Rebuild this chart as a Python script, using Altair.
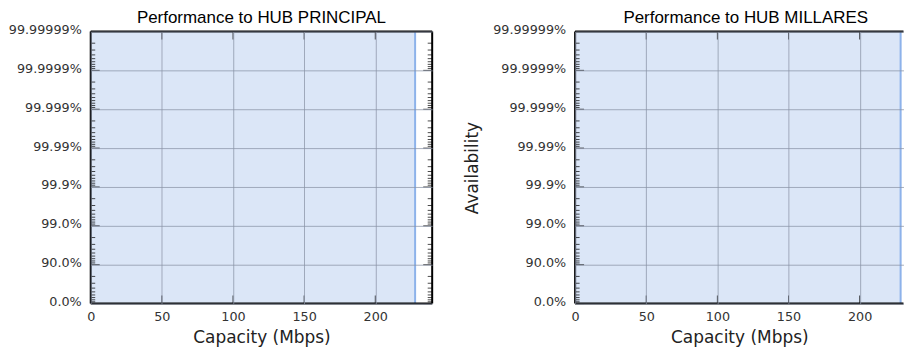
import math
import altair as alt
import pandas as pd

# ---- data ----
titles = ["Performance to HUB PRINCIPAL", "Performance to HUB MILLARES"]
capacity_mbps = [228, 228.8]          # capacity where the availability curve sits
x_domain_max = [240, 230.8]           # right panel is cut off at the window edge
x_tick_values = [0, 50, 100, 150, 200]
avail_labels = ["0.0%", "90.0%", "99.0%", "99.9%", "99.99%",
                "99.999%", "99.9999%", "99.99999%"]
minor_multipliers = [2, 3, 4, 5, 6, 7, 8, 9]

FILL = "#dbe6f7"
LINE = "#8db2ea"
GRID = "#8a94a6"
PX_PER_MBPS = 342.6 / 240
PLOT_H = 273

n_major = list(range(len(avail_labels)))
n_minor = [k + 1 - math.log10(m) for k in range(len(avail_labels) - 1) for m in minor_multipliers]
label_expr = "[" + ",".join("'%s'" % s for s in avail_labels) + "][round(datum.value)]"
top_n = len(avail_labels) - 1


def panel(i, y_title, right_frame, title_dx):
    xmax = x_domain_max[i]
    xs = alt.Scale(domain=[0, xmax], nice=False, zero=False)
    ys = alt.Scale(domain=[0, top_n], nice=False, zero=False)
    fill_df = pd.DataFrame({"c0": [0], "c1": [capacity_mbps[i]], "a0": [0], "a1": [top_n]})
    major_df = pd.DataFrame({"n": n_major})
    minor_df = pd.DataFrame({"n": n_minor})
    xt_df = pd.DataFrame({"v": x_tick_values[1:]})

    xax = alt.Axis(values=x_tick_values, title="Capacity (Mbps)",
                   grid=True, gridColor=GRID, gridOpacity=0.75, labelFlush=False,
                   ticks=False, domain=False, labelPadding=7, titlePadding=6.5, zindex=1)
    yax = alt.Axis(values=n_major, labelExpr=label_expr, grid=True, gridColor=GRID,
                   gridOpacity=0.75, ticks=False, domain=False, labelOffset=-2,
                   labelBaseline="middle", labelPadding=9.5, titlePadding=11.5, zindex=1,
                   title=y_title)

    def X(f):
        return alt.X(f, scale=xs, axis=xax)

    def Y(f):
        return alt.Y(f, scale=ys, axis=yax)

    def XD(v):
        return alt.XDatum(v, scale=xs, axis=xax)

    def YD(v):
        return alt.YDatum(v, scale=ys, axis=yax)

    rect = alt.Chart(fill_df).mark_rect(color=FILL).encode(
        x=X("c0:Q"), x2=alt.X2("c1"), y=Y("a0:Q"), y2=alt.Y2("a1"))
    line = alt.Chart(fill_df).mark_rule(color=LINE, strokeWidth=2).encode(x=X("c1:Q"))

    frame = [
        alt.Chart(fill_df).mark_rule(color="black", strokeWidth=2).encode(x=XD(0)),
        alt.Chart(fill_df).mark_rule(color="black", strokeWidth=2).encode(y=YD(0)),
        alt.Chart(fill_df).mark_rule(color="black", strokeWidth=2).encode(y=YD(top_n)),
    ]
    if right_frame:
        frame.append(alt.Chart(fill_df).mark_rule(color="black", strokeWidth=2).encode(x=XD(xmax)))

    sides = [(0, 1)]
    if right_frame:
        sides.append((xmax, -1))
    ticks = []
    for xv, sgn in sides:
        ticks.append(alt.Chart(major_df).mark_tick(orient="horizontal", size=9, thickness=1,
                                                   xOffset=4.5 * sgn, color="black").encode(
            x=XD(xv), y=Y("n:Q")))
        ticks.append(alt.Chart(minor_df).mark_tick(orient="horizontal", size=4.5, thickness=1,
                                                   xOffset=2.25 * sgn, color="black").encode(
            x=XD(xv), y=Y("n:Q")))
    for yv, sgn in [(0, -1), (top_n, 1)]:
        ticks.append(alt.Chart(xt_df).mark_tick(orient="vertical", size=8, thickness=1,
                                                yOffset=4 * sgn, color="black").encode(
            x=X("v:Q"), y=YD(yv)))

    return alt.layer(rect, line, *ticks, *frame).properties(
        width=PX_PER_MBPS * xmax,
        height=PLOT_H,
        title=alt.TitleParams(titles[i], frame="group", font="Liberation Sans", fontSize=17,
                              fontWeight="normal", color="black", offset=-3, dx=title_dx),
    )


left = panel(0, None, True, 0)
right = panel(1, "Availability", False, 6.5)

chart = alt.hconcat(left, right, spacing=29).properties(
    padding={"left": 0, "top": 0, "right": 0, "bottom": 0}
).configure_view(strokeOpacity=0).configure_axis(
    labelFont="DejaVu Sans", labelFontSize=12.8, labelColor="#333333",
    titleFont="DejaVu Sans", titleFontSize=17, titleFontWeight="normal", titleColor="#222222",
)

chart.save("out.html", embed_options={"renderer": "svg", "actions": False})
